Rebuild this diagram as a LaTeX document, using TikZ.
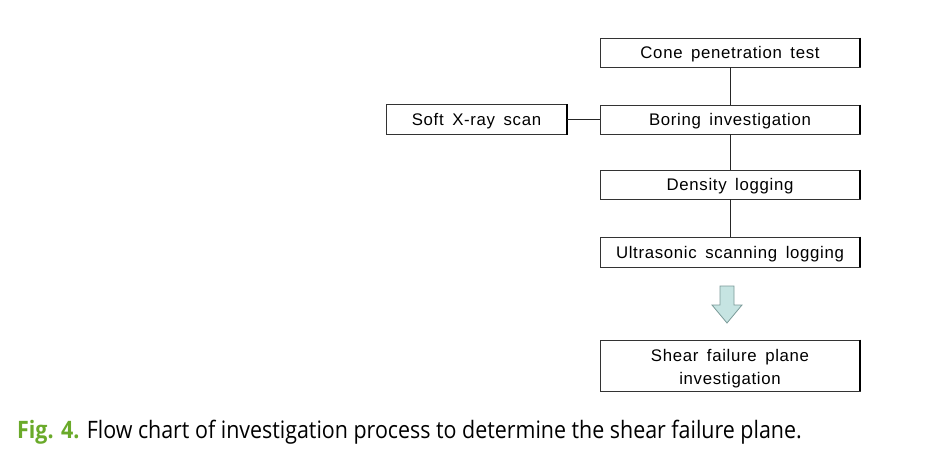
\documentclass[tikz,border=0pt]{standalone}
\usepackage{fontspec}
\setmainfont{Liberation Sans}
\newfontfamily\boxfont[LetterSpace=4,WordSpace=1.6]{Liberation Sans}
\newfontfamily\capfont{Open Sans}
\definecolor{figgreen}{HTML}{6AAA2A}
\definecolor{arrowfill}{HTML}{C6E4E2}
\definecolor{arrowedge}{HTML}{7A9A98}
\begin{document}
\begin{tikzpicture}[x=1pt,y=-1pt,
  boxfrm/.style={draw=black!80,line width=0.8pt,minimum width=260pt,minimum height=29pt,inner sep=0pt},
  box/.style={boxfrm,text height=14pt,text depth=2pt,font=\boxfont\fontsize{16.8}{23}\selectfont},
  link/.style={draw=black!85,line width=1pt}]
\useasboundingbox (0,0) rectangle (952,475);
\node[box] (cone) at (730,52.5) {Cone penetration test};
\node[box] (boring) at (730,119.5) {Boring investigation};
\node[box,minimum width=181pt,minimum height=30pt] (xray) at (476.5,119.5) {Soft X-ray scan};
\node[box] (dens) at (730,184.5) {Density logging};
\node[box,minimum height=30pt] (ultra) at (730,252) {Ultrasonic scanning logging};
\node[boxfrm,minimum height=51pt] (shear) at (730,365.5) {};
\node[align=center,inner sep=0pt,font=\boxfont\fontsize{16.8}{23}\selectfont] (sheartxt) at ([yshift=-3pt]shear.center) {Shear failure plane\\investigation};
\foreach \n in {cone,boring,xray,dens,ultra,shear}{
  \draw[line width=1.6pt] ([xshift=-0.4pt]\n.north east) -- ([xshift=-0.4pt]\n.south east);
}
\draw[link] (cone) -- (boring);
\draw[link] (boring) -- (dens);
\draw[link] (dens) -- (ultra);
\draw[link] (xray) -- (boring);
\draw[draw=arrowedge,fill=arrowfill,line width=0.8pt]
  (720,286) -- (734,286) -- (734,305) -- (742,305) -- (727,323) -- (712,305) -- (720,305) -- cycle;
\node[anchor=west,inner sep=0pt] (cap) at (17,432) {\scalebox{0.892}[1]{\capfont\fontsize{24}{28}\selectfont\textcolor{figgreen}{\textbf{Fig. 4.}} Flow chart of investigation process to determine the shear failure plane.}};
\end{tikzpicture}
\end{document}
